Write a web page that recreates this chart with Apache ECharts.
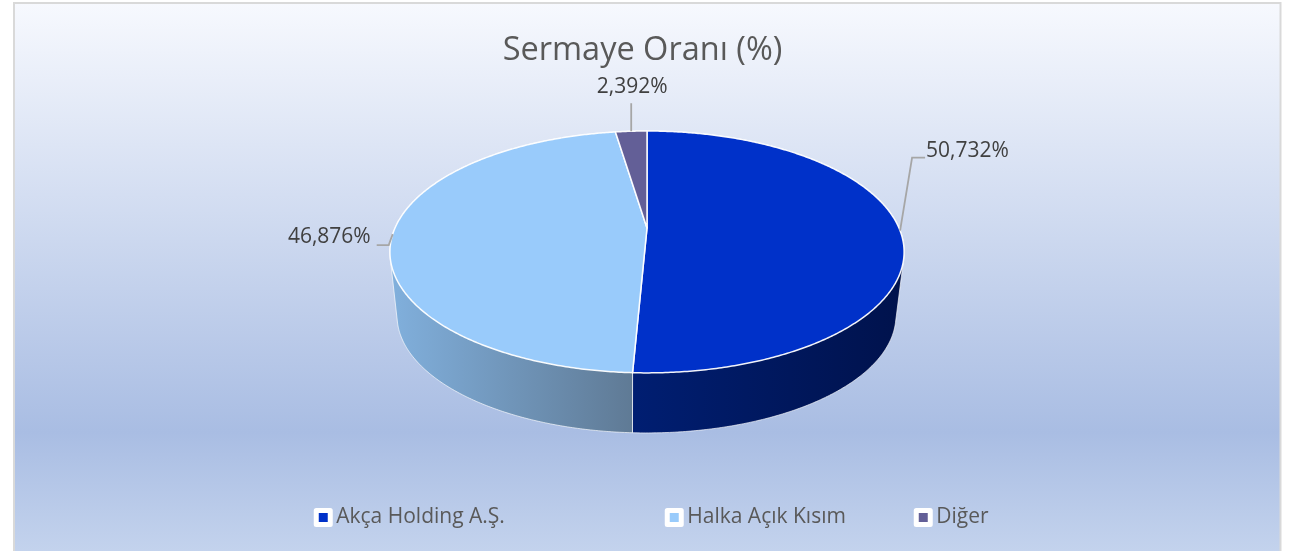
<!DOCTYPE html>
<html><head><meta charset="utf-8">
<style>html,body{margin:0;padding:0;background:#fff}#c{width:1304px;height:551px}</style>
<script src="https://cdn.jsdelivr.net/npm/echarts@6/dist/echarts.min.js"></script>
</head><body><div id="c"></div>
<script>
const titleText = 'Sermaye Oranı (%)';
const categories = ['Akça Holding A.Ş.', 'Halka Açık Kısım', 'Diğer'];
const shares = [50.732, 46.876, 2.392];

const FONT = '"Open Sans"';
const faceColors = ['#0031C9', '#99CBFB', '#635F97'];
const wallColors = [['#001E72', '#00124C'], ['#81B0DD', '#5F7A95'], ['#4A4772', '#3A3859']];
const legendLeft = [308.75, 659.75, 908.75];

// perspective view of the disc
const topView = {cx: 647, cy: 228, rx: 252, ry: 116.2, k: 0.198};
const baseView = {cx: 646.5, cy: 292.4, rx: 244.5, ry: 112.7, k: 0.198};
// leader-line bends and text anchors relative to the rim point of each slice
const leaders = [
  {bend: [[12, -73], [25, -73]], text: [26, -80], align: 'left'},
  {bend: [[-4, 11], [-16, 11]], text: [-22, 3], align: 'right'},
  {bend: [[0, -28]], text: [1, -44], align: 'center'}
];

function project(view, deg) {
  const t = deg * Math.PI / 180, u = Math.sin(t), v = Math.cos(t), w = 1 + view.k * v;
  return [view.cx + view.rx * u / w, view.cy - view.ry * v / w];
}
function arc(view, a, b) {
  const pts = [], n = Math.max(2, Math.ceil(Math.abs(b - a) * 2));
  for (let i = 0; i <= n; i++) pts.push(project(view, a + (b - a) * i / n));
  return pts;
}
function hull(points) {
  const p = points.slice().sort((m, n) => m[0] - n[0] || m[1] - n[1]);
  const cross = (o, a, b) => (a[0]-o[0])*(b[1]-o[1]) - (a[1]-o[1])*(b[0]-o[0]);
  const lo = [], up = [];
  for (const q of p) { while (lo.length > 1 && cross(lo[lo.length-2], lo[lo.length-1], q) <= 0) lo.pop(); lo.push(q); }
  for (const q of p.slice().reverse()) { while (up.length > 1 && cross(up[up.length-2], up[up.length-1], q) <= 0) up.pop(); up.push(q); }
  return lo.slice(0, -1).concat(up.slice(0, -1));
}
const total = shares.reduce((s, v) => s + v, 0);
const starts = shares.map((_, i) => shares.slice(0, i).reduce((s, v) => s + v, 0) / total * 360);

function renderSlice(index, params, api) {
  const share = api.value(0);
  const a = starts[index], b = a + share / total * 360, mid = (a + b) / 2;
  const rim = arc(topView, a, b);
  const wall = hull(rim.concat(arc(baseView, a, b)));
  const anchor = project(topView, mid);
  const L = leaders[index];
  const line = [anchor].concat(L.bend.map(d => [anchor[0] + d[0], anchor[1] + d[1]]));
  return {type: 'group', children: [
    {type: 'polygon', z2: 1, shape: {points: wall}, style: {
      fill: {type: 'linear', x: 0, y: 0, x2: 1, y2: 0, colorStops: [
        {offset: 0, color: wallColors[index][0]}, {offset: 1, color: wallColors[index][1]}]},
      stroke: 'rgba(255,255,255,0.65)', lineWidth: 1}},
    {type: 'polygon', z2: 5, shape: {points: [[topView.cx, topView.cy]].concat(rim)},
      style: {fill: faceColors[index], stroke: 'rgba(255,255,255,0.95)', lineWidth: 1.5, lineJoin: 'round'}},
    {type: 'polyline', z2: 8, shape: {points: line}, style: {fill: null, stroke: '#a6a6a6', lineWidth: 1.8}},
    {type: 'text', z2: 9, style: {
      x: anchor[0] + L.text[0], y: anchor[1] + L.text[1],
      text: share.toFixed(3).replace('.', ',') + '%',
      fill: '#404040', font: '21px ' + FONT, align: L.align, verticalAlign: 'middle'}}
  ]};
}

const chart = echarts.init(document.getElementById('c'), null, {renderer: 'canvas'});
chart.setOption({
  animation: false,
  backgroundColor: '#ffffff',
  title: {text: titleText, left: 637.5, top: 29, textAlign: 'center',
    textStyle: {fontFamily: FONT, fontSize: 32.5, fontWeight: 'normal', color: '#595959'}},
  legend: categories.map((name, i) => ({
    data: [name], left: legendLeft[i], top: 502, orient: 'horizontal',
    itemWidth: 14, itemHeight: 14, icon: 'rect', selectedMode: false,
    itemStyle: {borderColor: '#ffffff', borderWidth: 5, borderJoin: 'round'},
    textStyle: {fontFamily: FONT, fontSize: 21, color: '#595959', padding: [0, 0, 0, 1]}
  })),
  graphic: [{
    type: 'rect', z: -10, silent: true,
    shape: {x: 14, y: 3, width: 1266.5, height: 560},
    style: {
      fill: {type: 'linear', x: 0, y: 0, x2: 0, y2: 1, colorStops: [
        {offset: 0, color: '#f7f9fe'}, {offset: 0.765, color: '#a9bde3'}, {offset: 1, color: '#c6d5ee'}]},
      stroke: '#d9d9d9', lineWidth: 2
    }
  }],
  series: categories.map((name, i) => ({
    type: 'custom', name, coordinateSystem: 'none', silent: true,
    itemStyle: {color: faceColors[i]},
    data: [[shares[i]]],
    renderItem: (params, api) => renderSlice(i, params, api)
  }))
});
</script></body></html>
